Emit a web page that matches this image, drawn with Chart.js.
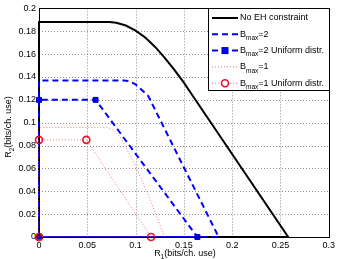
<!DOCTYPE html>
<html>
<head>
<meta charset="utf-8">
<script src="https://cdn.jsdelivr.net/npm/chart.js@4/dist/chart.umd.min.js"></script>
<style>
  html, body { margin: 0; padding: 0; background: #fff; }
  #wrap { width: 338px; height: 259px; }
</style>
</head>
<body>
<div id="wrap"><canvas id="grafico" width="338" height="259"></canvas></div>
<script>
// Datos (R1, R2 en bits/ch. use)
const noEhR1 = [0, 0, 0.073, 0.08, 0.09, 0.1, 0.11, 0.12, 0.13, 0.14, 0.15, 0.16, 0.258, 0];
const noEhR2 = [0, 0.188, 0.188, 0.1875, 0.185, 0.1805, 0.1745, 0.1665, 0.157, 0.1465, 0.135, 0.1225, 0, 0];

const bmax2R1 = [0, 0, 0.088, 0.094, 0.1, 0.106, 0.113, 0.186, 0];
const bmax2R2 = [0, 0.137, 0.137, 0.1362, 0.1335, 0.129, 0.1235, 0, 0];

const bmax2UniR1 = [0, 0, 0.0586, 0.164, 0];
const bmax2UniR2 = [0, 0.12, 0.12, 0, 0];

const bmax1R1 = [0, 0, 0.065, 0.072, 0.078, 0.085, 0.1, 0.115, 0.13, 0];
const bmax1R2 = [0, 0.096, 0.096, 0.0955, 0.093, 0.0865, 0.062, 0.033, 0, 0];

const bmax1UniR1 = [0, 0, 0.049, 0.116, 0];
const bmax1UniR2 = [0, 0.085, 0.085, 0, 0];

const xTicks = [0, 0.05, 0.1, 0.15, 0.2, 0.25, 0.3];
const yTicks = [0, 0.02, 0.04, 0.06, 0.08, 0.1, 0.12, 0.14, 0.16, 0.18, 0.2];

const FUENTE = '"Liberation Sans", Arial, sans-serif';
const ROJO_LINEA = 'rgba(240,60,60,0.7)';

const puntos = (xs, ys) => xs.map((x, i) => ({ x, y: ys[i] }));

// Entradas de la leyenda (texto principal, subindice, resto)
const leyenda = [
  { pre: 'No EH constraint', sub: '', post: '', color: '#000', dash: [], width: 2, marker: null },
  { pre: 'B', sub: 'max', post: '=2', color: '#0000ff', dash: [6, 4], width: 2, marker: null },
  { pre: 'B', sub: 'max', post: '=2 Uniform distr.', color: '#0000ff', dash: [6, 4], width: 2, marker: 'rect' },
  { pre: 'B', sub: 'max', post: '=1', color: ROJO_LINEA, dash: [1, 2], width: 1, marker: null },
  { pre: 'B', sub: 'max', post: '=1 Uniform distr.', color: ROJO_LINEA, dash: [1, 2], width: 1, marker: 'circle' }
];

// Rejilla punteada estilo MATLAB
const rejilla = {
  id: 'rejilla',
  beforeDatasetsDraw(chart) {
    const { ctx, chartArea: a, scales } = chart;
    ctx.save();
    ctx.strokeStyle = '#8c8c8c';
    ctx.lineWidth = 1;
    ctx.setLineDash([1, 2]);
    xTicks.forEach(v => {
      const px = Math.round(scales.x.getPixelForValue(v)) + 0.5;
      ctx.beginPath();
      ctx.moveTo(px, a.top);
      ctx.lineTo(px, a.bottom);
      ctx.stroke();
    });
    yTicks.forEach(v => {
      const py = Math.round(scales.y.getPixelForValue(v)) + 0.5;
      ctx.beginPath();
      ctx.moveTo(a.left, py);
      ctx.lineTo(a.right, py);
      ctx.stroke();
    });
    ctx.restore();
  }
};

const marcoYLeyenda = {
  id: 'marcoYLeyenda',
  afterDraw(chart) {
    const { ctx, chartArea: a } = chart;
    ctx.save();
    // marco del area
    ctx.strokeStyle = '#000';
    ctx.lineWidth = 1;
    ctx.setLineDash([]);
    ctx.strokeRect(Math.round(a.left) + 0.5, Math.round(a.top) + 0.5,
      Math.round(a.right - a.left), Math.round(a.bottom - a.top));

    // titulos de ejes
    ctx.fillStyle = '#000';
    ctx.textBaseline = 'middle';
    const titulo = (txt, sub, resto, x, y) => {
      ctx.font = '9px ' + FUENTE;
      const w1 = ctx.measureText(txt).width;
      ctx.font = '6.5px ' + FUENTE;
      const w2 = ctx.measureText(sub).width;
      ctx.font = '9px ' + FUENTE;
      const w3 = ctx.measureText(resto).width;
      let px = x - (w1 + w2 + w3) / 2;
      ctx.textAlign = 'left';
      ctx.fillText(txt, px, y);
      ctx.font = '6.5px ' + FUENTE;
      ctx.fillText(sub, px + w1, y + 3);
      ctx.font = '9px ' + FUENTE;
      ctx.fillText(resto, px + w1 + w2, y);
    };
    titulo('R', '1', '(bits/ch. use)', 185, 254);
    ctx.save();
    ctx.translate(9, 127);
    ctx.rotate(-Math.PI / 2);
    titulo('R', '2', '(bits/ch. use)', 0, 0);
    ctx.restore();

    // leyenda
    const bx = 208, by = Math.round(a.top), bw = Math.round(a.right) - 208, bh = 82;
    ctx.fillStyle = '#fff';
    ctx.fillRect(bx, by, bw, bh);
    ctx.strokeStyle = '#000';
    ctx.lineWidth = 1;
    ctx.strokeRect(bx + 0.5, by + 0.5, bw, bh);
    leyenda.forEach((e, i) => {
      const y = by + 10 + i * 16.3;
      ctx.strokeStyle = e.color;
      ctx.lineWidth = e.width;
      ctx.setLineDash(e.dash);
      ctx.beginPath();
      ctx.moveTo(212, y);
      ctx.lineTo(238, y);
      ctx.stroke();
      ctx.setLineDash([]);
      if (e.marker === 'rect') {
        ctx.fillStyle = '#0000ff';
        ctx.strokeStyle = '#0000aa';
        ctx.lineWidth = 1;
        ctx.fillRect(222, y - 3, 6, 6);
        ctx.strokeRect(222, y - 3, 6, 6);
      } else if (e.marker === 'circle') {
        ctx.fillStyle = '#fff';
        ctx.strokeStyle = '#e8102a';
        ctx.lineWidth = 1.6;
        ctx.beginPath();
        ctx.arc(225, y, 3.5, 0, Math.PI * 2);
        ctx.fill();
        ctx.stroke();
      }
      ctx.fillStyle = '#000';
      ctx.textAlign = 'left';
      ctx.textBaseline = 'middle';
      ctx.font = '9px ' + FUENTE;
      ctx.fillText(e.pre, 240, y);
      let px = 240 + ctx.measureText(e.pre).width;
      if (e.sub) {
        ctx.font = '6.5px ' + FUENTE;
        ctx.fillText(e.sub, px, y + 4);
        px += ctx.measureText(e.sub).width;
        ctx.font = '9px ' + FUENTE;
        ctx.fillText(e.post, px, y);
      }
    });
    ctx.restore();
  }
};

const ctx = document.getElementById('grafico').getContext('2d');
new Chart(ctx, {
  type: 'scatter',
  data: {
    datasets: [
      {
        label: 'No EH constraint',
        data: puntos(noEhR1, noEhR2),
        showLine: true,
        borderColor: '#000',
        borderWidth: 2,
        pointRadius: 0,
        order: 5
      },
      {
        label: 'Bmax=2',
        data: puntos(bmax2R1, bmax2R2),
        showLine: true,
        borderColor: '#0000ff',
        borderWidth: 2,
        borderDash: [6, 4],
        pointRadius: 0,
        order: 4
      },
      {
        label: 'Bmax=2 Uniform distr.',
        data: puntos(bmax2UniR1, bmax2UniR2),
        showLine: true,
        borderColor: '#0000ff',
        borderWidth: 2,
        borderDash: [6, 4],
        pointStyle: 'rect',
        pointRadius: 3.5,
        pointBackgroundColor: '#0000ff',
        pointBorderColor: '#0000aa',
        pointBorderWidth: 1,
        order: 3
      },
      {
        label: 'Bmax=1',
        data: puntos(bmax1R1, bmax1R2),
        showLine: true,
        borderColor: ROJO_LINEA,
        borderWidth: 1,
        borderDash: [1, 2],
        pointRadius: 0,
        order: 2
      },
      {
        label: 'Bmax=1 Uniform distr.',
        data: puntos(bmax1UniR1, bmax1UniR2),
        showLine: true,
        borderColor: ROJO_LINEA,
        borderWidth: 1,
        borderDash: [1, 2],
        pointStyle: 'circle',
        pointRadius: 3.5,
        pointBackgroundColor: 'rgba(255,255,255,0)',
        pointBorderColor: '#e8102a',
        pointBorderWidth: 1.6,
        order: 1
      }
    ]
  },
  options: {
    responsive: false,
    animation: false,
    clip: false,
    layout: { padding: { left: 0, top: 6, right: 7, bottom: 0 } },
    plugins: {
      legend: { display: false },
      tooltip: { enabled: false }
    },
    scales: {
      x: {
        type: 'linear',
        min: 0,
        max: 0.3,
        afterBuildTicks: (s) => { s.ticks = xTicks.map(v => ({ value: v })); },
        afterFit: (s) => { s.height = 22; },
        ticks: {
          padding: 3,
          color: '#000',
          font: { family: FUENTE, size: 9 },
          maxRotation: 0,
          callback: (v) => String(+v.toFixed(2))
        },
        grid: { display: false, drawTicks: false },
        border: { display: false }
      },
      y: {
        type: 'linear',
        min: 0,
        max: 0.2,
        afterBuildTicks: (s) => { s.ticks = yTicks.map(v => ({ value: v })); },
        afterFit: (s) => { s.width = 39; },
        ticks: {
          padding: 3,
          color: '#000',
          font: { family: FUENTE, size: 9 },
          callback: (v) => String(+v.toFixed(2))
        },
        grid: { display: false, drawTicks: false },
        border: { display: false }
      }
    }
  },
  plugins: [rejilla, marcoYLeyenda]
});
</script>
</body>
</html>
